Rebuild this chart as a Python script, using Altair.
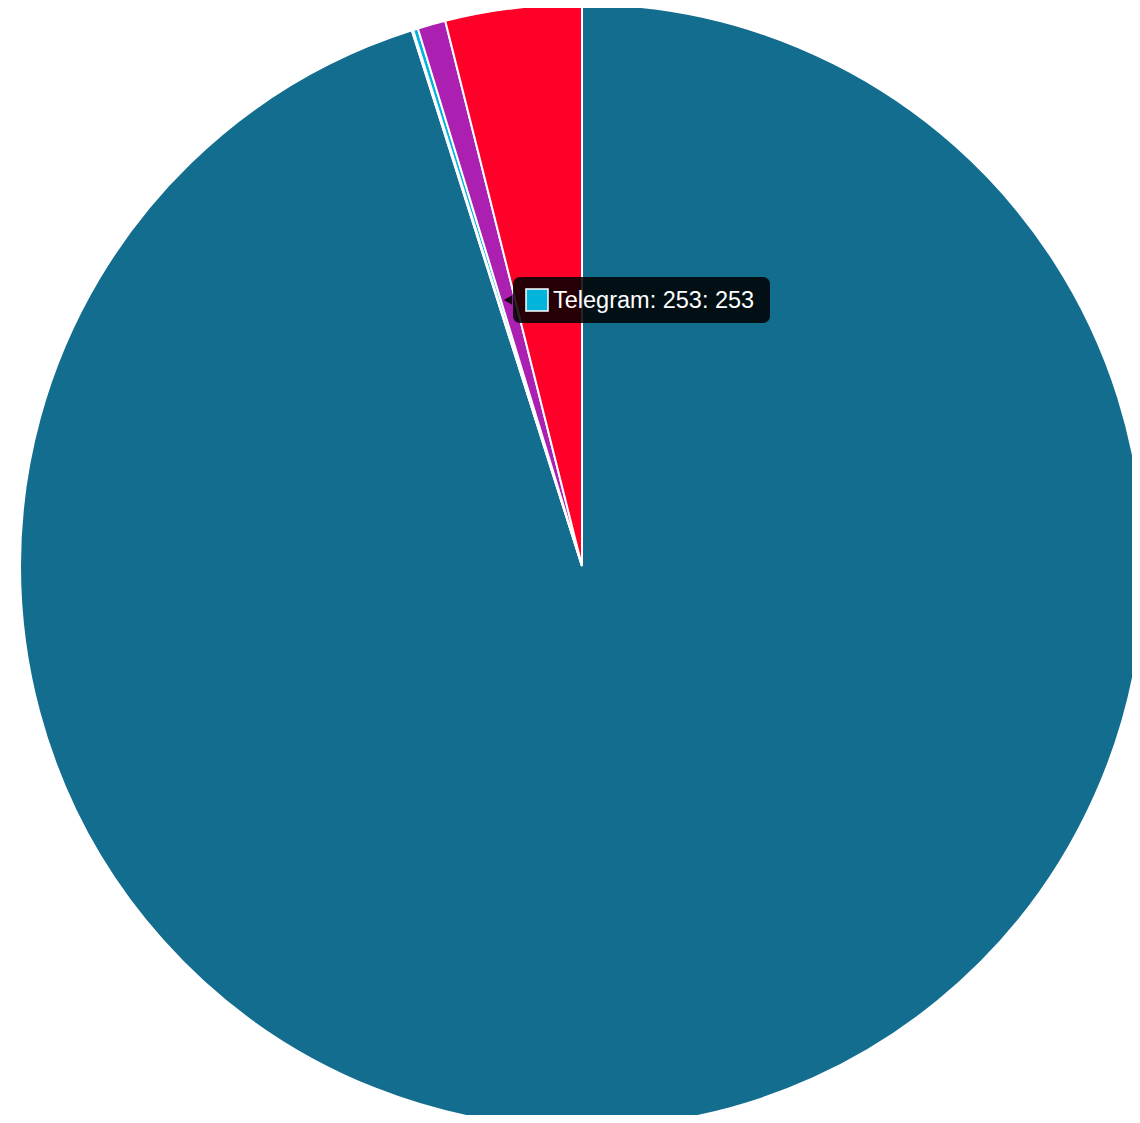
import altair as alt
import pandas as pd

# Slice data (clockwise from 12 o'clock)
labels = ["Other", "Unknown", "Telegram", "Signal", "SMS"]
values = [171400, 70, 253, 1450, 7050]
colors = ["#136d8f", "#d9d9d9", "#00b4dc", "#ab20b0", "#ff0029"]
order_idx = [0, 1, 2, 3, 4]

# Tooltip annotation
tip_label = "Telegram: 253: 253"
tip_color = "#00b4dc"

df = pd.DataFrame({"label": labels, "value": values, "idx": order_idx})

CX, CY, R = 574, 558, 562

pie = alt.Chart(df).mark_arc(stroke="white", strokeWidth=2, radius=R).encode(
    theta=alt.Theta("value:Q", stack=True),
    order=alt.Order("idx:Q"),
    color=alt.Color("label:N", scale=alt.Scale(domain=labels, range=colors), legend=None),
    x=alt.value(CX),
    y=alt.value(CY),
)

tip_df = pd.DataFrame({"t": [tip_label]})

tip_box = alt.Chart(tip_df).mark_rect(
    fill="#000000", opacity=0.85, cornerRadius=7
).encode(
    x=alt.value(505), x2=alt.value(762), y=alt.value(269), y2=alt.value(315)
)

tip_caret = alt.Chart(tip_df).mark_point(
    shape="triangle-left", filled=True, fill="#000000", opacity=0.85, size=90, strokeWidth=0
).encode(x=alt.value(500), y=alt.value(292))

tip_swatch = alt.Chart(tip_df).mark_rect(
    fill=tip_color, stroke="white", strokeWidth=1.5
).encode(
    x=alt.value(518), x2=alt.value(540), y=alt.value(281), y2=alt.value(303)
)

tip_text = alt.Chart(tip_df).mark_text(
    align="left", baseline="middle", color="white", fontSize=23.5,
    font="Liberation Sans"
).encode(x=alt.value(545), y=alt.value(293), text="t:N")

chart = alt.layer(pie, tip_box, tip_caret, tip_swatch, tip_text).properties(
    width=1124, height=1107,
    autosize=alt.AutoSizeParams(type="none"),
    padding=0,
    background="white",
).configure_view(strokeWidth=0, stroke="transparent")

chart.save("out.html", embed_options={"renderer": "svg", "actions": False})
